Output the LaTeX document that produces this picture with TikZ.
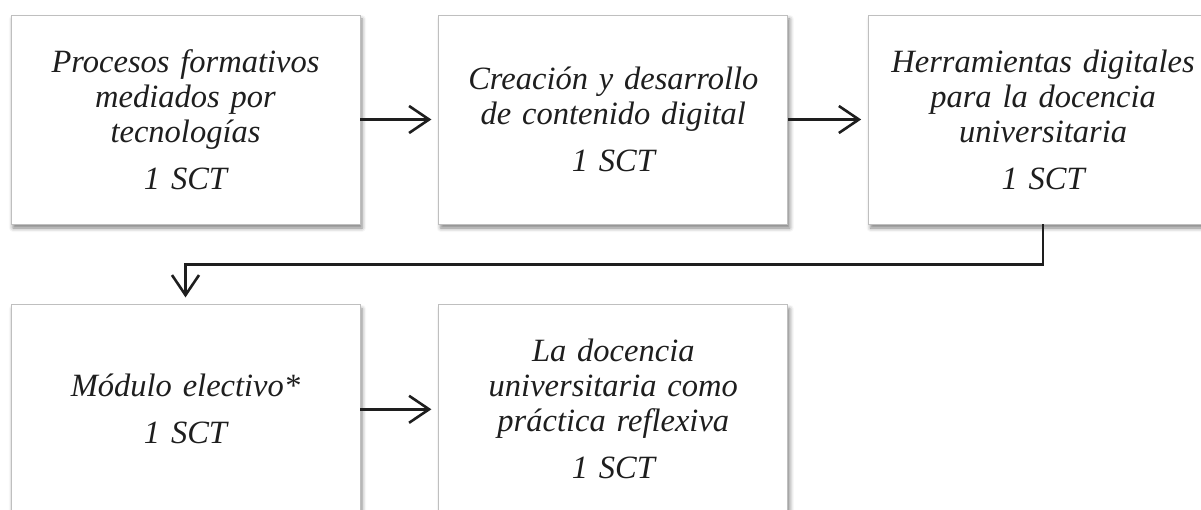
\documentclass[tikz,border=0pt]{standalone}
\usepackage{fontspec}
\setmainfont{Liberation Serif}[WordSpace={0.55}]
\usepackage{xcolor}
\usepackage{tikz}
\usetikzlibrary{arrows.meta, positioning, shadows.blur}
\definecolor{boxline}{HTML}{BFBFBF}
\definecolor{ink}{HTML}{1E1E1E}
\tikzset{
  modulo/.style={rectangle, draw=boxline, line width=0.8pt, fill=white, minimum width=349pt, minimum height=209pt, inner sep=0pt, text width=345pt, align=center, text=ink, font=\fontsize{32.5}{35}\selectfont\itshape, blur shadow={shadow xshift=2pt, shadow yshift=-4pt, shadow blur radius=4pt, shadow opacity=50}},
  arrow/.style={-{Straight Barb[length=20pt, width=27pt, line width=2.6pt]}, line width=2.6pt, draw=ink, shorten >=7pt},
}

\begin{document}
\begin{tikzpicture}[x=1pt, y=1pt]
    \useasboundingbox (0,0) rectangle (1201,-510);
    \node[modulo] (proc) at (185.5,-119.5) {Procesos formativos\\ mediados por\\ tecnologías\\[12pt] 1 SCT};
    \node[modulo, right=78pt of proc] (crea) {Creación y desarrollo\\ de contenido digital\\[12pt] 1 SCT};
    \node[modulo, right=80pt of crea] (herr) {Herramientas digitales\\ para la docencia\\ universitaria\\[12pt] 1 SCT};
    \node[modulo, below=80pt of proc] (elec) {Módulo electivo*\\[12pt] 1 SCT};
    \node[modulo, right=78pt of elec] (refl) {La docencia\\ universitaria como\\ práctica reflexiva\\[12pt] 1 SCT};
    \draw[arrow] (proc) -- (crea);
    \draw[arrow] (crea) -- (herr);
    \draw[arrow] (herr.south) -- ++(0,-40) -| (elec.north);
    \draw[arrow] (elec) -- (refl);
  \end{tikzpicture}
\end{document}
